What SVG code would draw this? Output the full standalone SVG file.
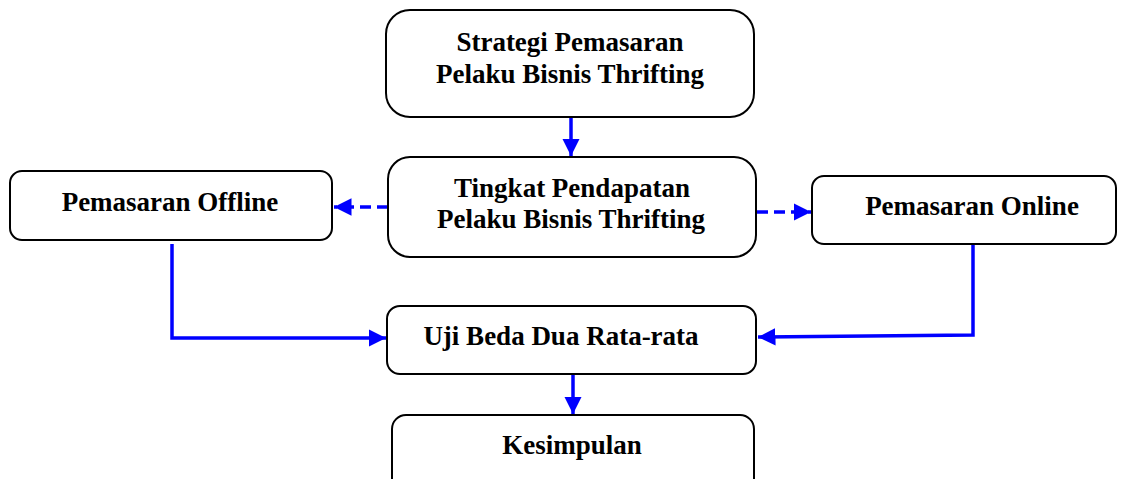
<svg xmlns="http://www.w3.org/2000/svg" width="1126" height="479" viewBox="0 0 1126 479">
<style>
.box{fill:#fff;stroke:#000;stroke-width:2}
.t{font-family:"Liberation Serif","Times New Roman",serif;font-weight:bold;font-size:27px;fill:#000;text-anchor:middle}
.c{fill:none;stroke:#0000ff;stroke-width:3.5}
.d{stroke-dasharray:11 6}
</style>
<defs>
<marker id="ah" markerWidth="5" markerHeight="5" refX="5" refY="2.5" orient="auto" markerUnits="strokeWidth">
<path d="M0,0 L5,2.5 L0,5 Z" fill="#0000ff"/>
</marker>
</defs>
<rect width="1126" height="479" fill="#fff"/>
<g id="connectors">
<path class="c" d="M571,117 V156" marker-end="url(#ah)"/>
<path class="c d" d="M388,207 H334" marker-end="url(#ah)"/>
<path class="c d" d="M757,212 H811" marker-end="url(#ah)"/>
<path class="c" d="M172,244 V338 H386" marker-end="url(#ah)"/>
<path class="c" d="M973,244 V335 L758,337" marker-end="url(#ah)"/>
<path class="c" d="M573,374 V414" marker-end="url(#ah)"/>
</g>
<g id="strategi">
<rect class="box" x="386" y="10" width="368" height="107" rx="24"/>
<text class="t" x="570" y="51">Strategi Pemasaran</text>
<text class="t" x="570" y="83">Pelaku Bisnis Thrifting</text>
</g>
<g id="tingkat">
<rect class="box" x="388" y="157" width="368" height="100" rx="22"/>
<text class="t" x="572" y="197">Tingkat Pendapatan</text>
<text class="t" x="571" y="228">Pelaku Bisnis Thrifting</text>
</g>
<g id="offline">
<rect class="box" x="10" y="171" width="322" height="69" rx="12"/>
<text class="t" x="170" y="211">Pemasaran Offline</text>
</g>
<g id="online">
<rect class="box" x="812" y="176" width="304" height="68" rx="12"/>
<text class="t" x="972" y="215">Pemasaran Online</text>
</g>
<g id="uji">
<rect class="box" x="387" y="306" width="369" height="68" rx="13"/>
<text class="t" x="561" y="345">Uji Beda Dua Rata-rata</text>
</g>
<g id="kesimpulan">
<rect class="box" x="392" y="415" width="362" height="90" rx="14"/>
<text class="t" x="572" y="454">Kesimpulan</text>
</g>
</svg>
